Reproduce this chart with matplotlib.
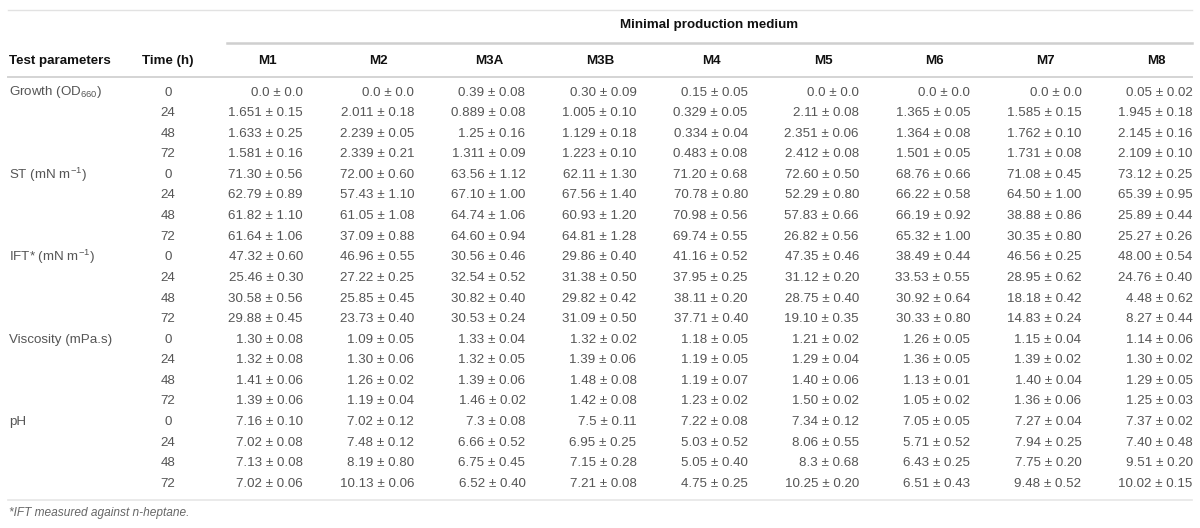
import matplotlib
matplotlib.use("Agg")
import matplotlib.pyplot as plt

plt.rcParams['font.family'] = ['Liberation Sans', 'DejaVu Sans']
plt.rcParams['mathtext.fontset'] = 'custom'
plt.rcParams['mathtext.rm'] = 'Liberation Sans'
plt.rcParams['mathtext.default'] = 'regular'

# table content
param_labels = ["Growth (OD$_{660}$)", "ST (mN m$^{-1}$)", "IFT* (mN m$^{-1}$)",
                "Viscosity (mPa.s)", "pH"]
times = ["0", "24", "48", "72"]
media = ["M1", "M2", "M3A", "M3B", "M4", "M5", "M6", "M7", "M8"]

m1 = ["0.0 ± 0.0", "1.651 ± 0.15", "1.633 ± 0.25", "1.581 ± 0.16",
      "71.30 ± 0.56", "62.79 ± 0.89", "61.82 ± 1.10", "61.64 ± 1.06",
      "47.32 ± 0.60", "25.46 ± 0.30", "30.58 ± 0.56", "29.88 ± 0.45",
      "1.30 ± 0.08", "1.32 ± 0.08", "1.41 ± 0.06", "1.39 ± 0.06",
      "7.16 ± 0.10", "7.02 ± 0.08", "7.13 ± 0.08", "7.02 ± 0.06"]
m2 = ["0.0 ± 0.0", "2.011 ± 0.18", "2.239 ± 0.05", "2.339 ± 0.21",
      "72.00 ± 0.60", "57.43 ± 1.10", "61.05 ± 1.08", "37.09 ± 0.88",
      "46.96 ± 0.55", "27.22 ± 0.25", "25.85 ± 0.45", "23.73 ± 0.40",
      "1.09 ± 0.05", "1.30 ± 0.06", "1.26 ± 0.02", "1.19 ± 0.04",
      "7.02 ± 0.12", "7.48 ± 0.12", "8.19 ± 0.80", "10.13 ± 0.06"]
m3a = ["0.39 ± 0.08", "0.889 ± 0.08", "1.25 ± 0.16", "1.311 ± 0.09",
       "63.56 ± 1.12", "67.10 ± 1.00", "64.74 ± 1.06", "64.60 ± 0.94",
       "30.56 ± 0.46", "32.54 ± 0.52", "30.82 ± 0.40", "30.53 ± 0.24",
       "1.33 ± 0.04", "1.32 ± 0.05", "1.39 ± 0.06", "1.46 ± 0.02",
       "7.3 ± 0.08", "6.66 ± 0.52", "6.75 ± 0.45", "6.52 ± 0.40"]
m3b = ["0.30 ± 0.09", "1.005 ± 0.10", "1.129 ± 0.18", "1.223 ± 0.10",
       "62.11 ± 1.30", "67.56 ± 1.40", "60.93 ± 1.20", "64.81 ± 1.28",
       "29.86 ± 0.40", "31.38 ± 0.50", "29.82 ± 0.42", "31.09 ± 0.50",
       "1.32 ± 0.02", "1.39 ± 0.06", "1.48 ± 0.08", "1.42 ± 0.08",
       "7.5 ± 0.11", "6.95 ± 0.25", "7.15 ± 0.28", "7.21 ± 0.08"]
m4 = ["0.15 ± 0.05", "0.329 ± 0.05", "0.334 ± 0.04", "0.483 ± 0.08",
      "71.20 ± 0.68", "70.78 ± 0.80", "70.98 ± 0.56", "69.74 ± 0.55",
      "41.16 ± 0.52", "37.95 ± 0.25", "38.11 ± 0.20", "37.71 ± 0.40",
      "1.18 ± 0.05", "1.19 ± 0.05", "1.19 ± 0.07", "1.23 ± 0.02",
      "7.22 ± 0.08", "5.03 ± 0.52", "5.05 ± 0.40", "4.75 ± 0.25"]
m5 = ["0.0 ± 0.0", "2.11 ± 0.08", "2.351 ± 0.06", "2.412 ± 0.08",
      "72.60 ± 0.50", "52.29 ± 0.80", "57.83 ± 0.66", "26.82 ± 0.56",
      "47.35 ± 0.46", "31.12 ± 0.20", "28.75 ± 0.40", "19.10 ± 0.35",
      "1.21 ± 0.02", "1.29 ± 0.04", "1.40 ± 0.06", "1.50 ± 0.02",
      "7.34 ± 0.12", "8.06 ± 0.55", "8.3 ± 0.68", "10.25 ± 0.20"]
m6 = ["0.0 ± 0.0", "1.365 ± 0.05", "1.364 ± 0.08", "1.501 ± 0.05",
      "68.76 ± 0.66", "66.22 ± 0.58", "66.19 ± 0.92", "65.32 ± 1.00",
      "38.49 ± 0.44", "33.53 ± 0.55", "30.92 ± 0.64", "30.33 ± 0.80",
      "1.26 ± 0.05", "1.36 ± 0.05", "1.13 ± 0.01", "1.05 ± 0.02",
      "7.05 ± 0.05", "5.71 ± 0.52", "6.43 ± 0.25", "6.51 ± 0.43"]
m7 = ["0.0 ± 0.0", "1.585 ± 0.15", "1.762 ± 0.10", "1.731 ± 0.08",
      "71.08 ± 0.45", "64.50 ± 1.00", "38.88 ± 0.86", "30.35 ± 0.80",
      "46.56 ± 0.25", "28.95 ± 0.62", "18.18 ± 0.42", "14.83 ± 0.24",
      "1.15 ± 0.04", "1.39 ± 0.02", "1.40 ± 0.04", "1.36 ± 0.06",
      "7.27 ± 0.04", "7.94 ± 0.25", "7.75 ± 0.20", "9.48 ± 0.52"]
m8 = ["0.05 ± 0.02", "1.945 ± 0.18", "2.145 ± 0.16", "2.109 ± 0.10",
      "73.12 ± 0.25", "65.39 ± 0.95", "25.89 ± 0.44", "25.27 ± 0.26",
      "48.00 ± 0.54", "24.76 ± 0.40", "4.48 ± 0.62", "8.27 ± 0.44",
      "1.14 ± 0.06", "1.30 ± 0.02", "1.29 ± 0.05", "1.25 ± 0.03",
      "7.37 ± 0.02", "7.40 ± 0.48", "9.51 ± 0.20", "10.02 ± 0.15"]
columns = [m1, m2, m3a, m3b, m4, m5, m6, m7, m8]

# layout in pixel units (figure is 1200 x 528)
W, H = 1200, 528
left, right = 8, 1192
first_col = 267
col_step = 111.2
time_x = 168
row0 = 92.5
row_step = 20.6
text_grey = "#555555"
line_grey = "#d4d4d4"

fig = plt.figure(figsize=(12, 5.28), dpi=100)
ax = fig.add_axes([0, 0, 1, 1])
ax.set_xlim(0, W)
ax.set_ylim(H, 0)
ax.axis("off")

# rules
ax.plot([left, right], [9.5, 9.5], color="#e2e2e2", lw=1.0)
ax.plot([227, right], [43, 43], color="#cfcfcf", lw=1.8)
ax.plot([left, right], [77, 77], color=line_grey, lw=1.4)
ax.plot([left, right], [500, 500], color="#e6e6e6", lw=1.2)

# headers
fs = 9.6
ax.text((227 + right) / 2, 25, "Minimal production medium", ha="center", va="center",
        fontsize=fs, fontweight="bold", color="#111111")
ax.text(left + 1, 61, "Test parameters", ha="left", va="center",
        fontsize=fs, fontweight="bold", color="#111111")
ax.text(time_x, 61, "Time (h)", ha="center", va="center",
        fontsize=fs, fontweight="bold", color="#111111")
for k, name in enumerate(media):
    ax.text(first_col + k * col_step, 61, name, ha="center", va="center",
            fontsize=fs, fontweight="bold", color="#111111")

# body
for p, label in enumerate(param_labels):
    for t, tm in enumerate(times):
        i = p * len(times) + t
        y = row0 + i * row_step
        if t == 0:
            ax.text(left + 1, y, label, ha="left", va="center",
                    fontsize=fs, color=text_grey)
        ax.text(time_x, y, tm, ha="center", va="center", fontsize=fs, color=text_grey)
        for k, col in enumerate(columns):
            ax.text(first_col + k * col_step + 36, y, col[i], ha="right", va="center",
                    fontsize=fs, color=text_grey)

ax.text(left + 1, 513, "*IFT measured against n-heptane.", ha="left", va="center",
        fontsize=8.6, style="italic", color="#666666")

fig.savefig("out.png", dpi=100)
plt.close(fig)
